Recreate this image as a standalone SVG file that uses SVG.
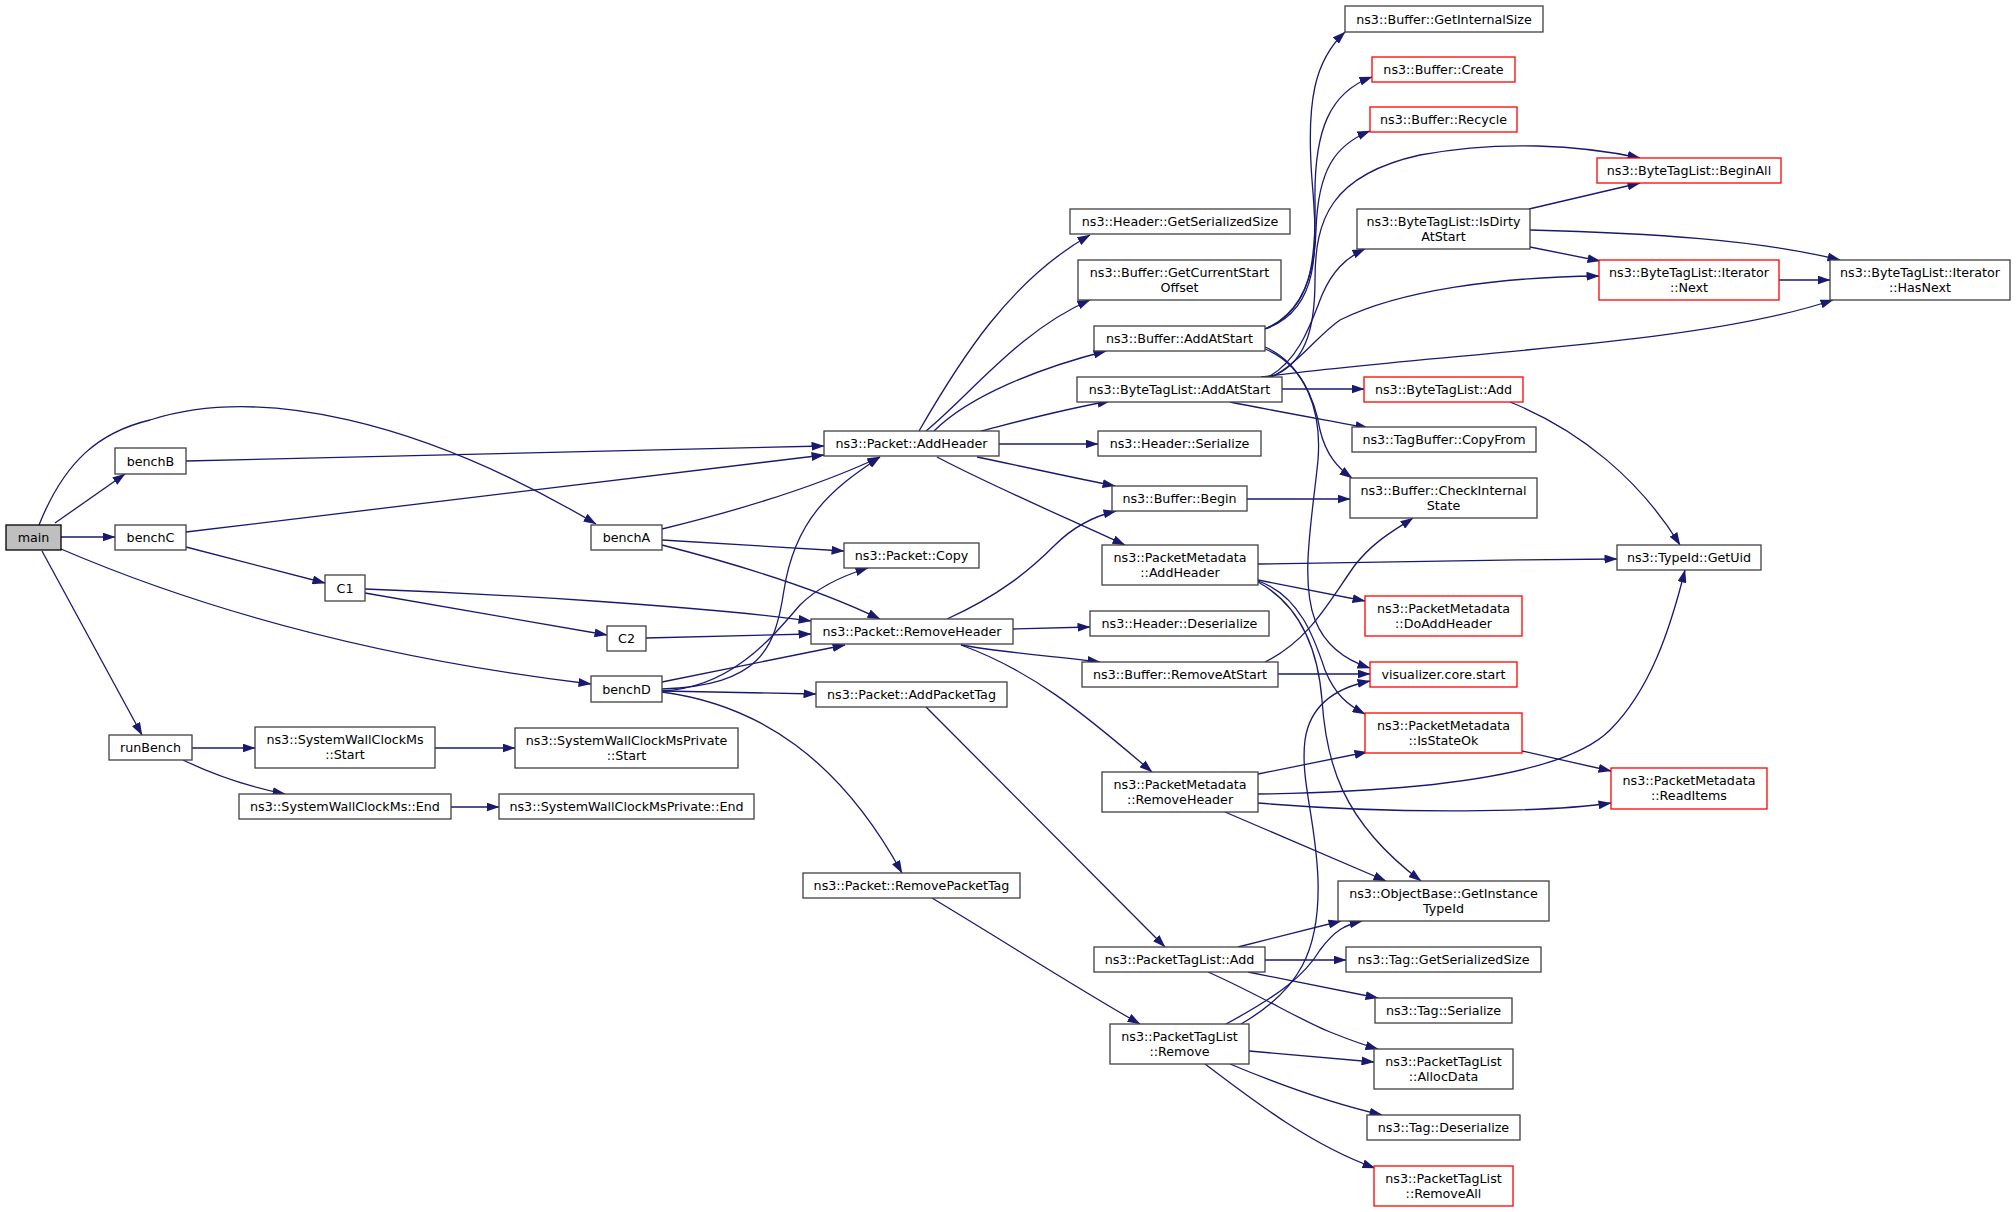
<svg xmlns="http://www.w3.org/2000/svg" width="2016" height="1212" viewBox="0 0 2016 1212">
<defs>
<marker id="ah" viewBox="0 0 13 9" refX="12.5" refY="4.5" markerWidth="13" markerHeight="9" markerUnits="userSpaceOnUse" orient="auto">
<path d="M0,0 L13,4.5 L0,9 z" fill="#191970"/>
</marker>
</defs>
<style>
.n rect{fill:#ffffff;stroke:#404040;stroke-width:1.3}
.r rect{fill:#ffffff;stroke:#ff0000;stroke-width:1.3}
.m rect{fill:#bfbfbf;stroke:#000000;stroke-width:1.3}
text{font-family:"DejaVu Sans","Liberation Sans",sans-serif;font-size:12.7px;fill:#000;text-anchor:middle}
#edges path{fill:none;stroke:#191970;stroke-width:1.3;marker-end:url(#ah)}
</style>
<rect x="0" y="0" width="2016" height="1212" fill="#ffffff"/>
<g id="edges">
<path d="M39,525 C65,460 100,432 150,420 C260,385 420,420 596,524"/>
<path d="M55,523 L125,474"/>
<path d="M61,537 L115,537"/>
<path d="M61,549 C180,600 350,655 591,684"/>
<path d="M42,551 L142,735"/>
<path d="M186,461 L824,446"/>
<path d="M186,532 L824,455"/>
<path d="M186,547 L325,583"/>
<path d="M365,589 C500,594 700,606 811,621"/>
<path d="M365,593 L607,635"/>
<path d="M646,638 L811,634"/>
<path d="M662,529 C740,510 820,485 880,457"/>
<path d="M662,540 L844,551"/>
<path d="M662,545 C740,565 820,590 880,619"/>
<path d="M192,748 L255,748"/>
<path d="M183,760 C210,773 240,785 285,794"/>
<path d="M435,748 L515,748"/>
<path d="M451,807 L499,807"/>
<path d="M662,682 L845,645"/>
<path d="M662,689 C760,685 775,650 784,590 C795,520 830,490 880,457"/>
<path d="M662,691 C730,688 770,640 800,605 C820,585 845,575 868,568"/>
<path d="M662,691 L816,694"/>
<path d="M662,692 C760,705 840,760 902,873"/>
<path d="M919,431 C960,360 1010,280 1090,235"/>
<path d="M926,431 C970,395 1020,330 1090,300"/>
<path d="M934,431 C970,395 1040,368 1106,351"/>
<path d="M981,431 C1020,421 1060,410 1110,401"/>
<path d="M999,444 L1098,444"/>
<path d="M977,457 C1030,468 1070,477 1115,486"/>
<path d="M937,457 C990,485 1060,515 1125,545"/>
<path d="M1247,499 L1350,499"/>
<path d="M947,619 C1000,595 1030,570 1055,545 C1075,525 1095,516 1116,511"/>
<path d="M1013,629 L1090,627"/>
<path d="M961,645 C1000,652 1050,656 1100,662"/>
<path d="M961,645 C1030,670 1080,710 1152,772"/>
<path d="M1258,564 C1400,561 1500,560 1617,559"/>
<path d="M1258,580 L1365,601"/>
<path d="M1258,581 C1300,595 1315,640 1325,670 C1335,695 1348,705 1365,714"/>
<path d="M1258,582 C1300,605 1318,650 1322,700 C1326,760 1340,820 1421,881"/>
<path d="M1265,662 C1310,640 1330,600 1355,565 C1375,540 1395,530 1413,518"/>
<path d="M1278,674 L1370,674"/>
<path d="M1258,774 L1367,752"/>
<path d="M1258,794 C1400,792 1560,780 1610,730 C1650,690 1670,630 1685,570"/>
<path d="M1258,803 C1400,815 1550,812 1611,803"/>
<path d="M1225,812 L1386,881"/>
<path d="M1522,751 L1611,771"/>
<path d="M1265,329 C1320,310 1318,250 1312,180 C1306,100 1315,60 1345,32"/>
<path d="M1265,329 C1312,310 1316,260 1315,200 C1314,130 1330,92 1372,77"/>
<path d="M1265,329 C1305,312 1315,270 1316,230 C1318,170 1335,145 1370,131"/>
<path d="M1265,347 C1300,362 1315,400 1320,430 C1326,455 1338,468 1352,478"/>
<path d="M1265,349 C1305,365 1322,410 1318,460 C1312,520 1300,580 1315,620 C1325,645 1345,660 1370,668"/>
<path d="M1268,377 C1300,360 1312,320 1322,295 C1332,272 1345,258 1365,249"/>
<path d="M1270,377 C1305,365 1315,330 1315,280 C1315,220 1330,175 1420,155 C1500,140 1580,145 1640,158"/>
<path d="M1272,377 C1300,362 1318,335 1340,320 C1400,290 1500,277 1599,276"/>
<path d="M1261,377 C1450,352 1700,345 1833,300"/>
<path d="M1282,389 L1364,389"/>
<path d="M1230,402 C1270,410 1320,419 1368,428"/>
<path d="M1510,402 C1580,430 1640,480 1680,545"/>
<path d="M1529,209 L1640,183"/>
<path d="M1530,247 L1600,261"/>
<path d="M1530,230 C1650,233 1760,240 1840,260"/>
<path d="M1779,280 L1830,280"/>
<path d="M926,707 L1165,947"/>
<path d="M932,898 C1010,945 1080,990 1140,1024"/>
<path d="M1238,947 L1341,921"/>
<path d="M1265,960 L1346,960"/>
<path d="M1248,972 L1378,998"/>
<path d="M1208,972 C1260,995 1300,1020 1330,1032 C1345,1038 1360,1044 1378,1049"/>
<path d="M1226,1024 C1280,995 1305,975 1320,950 C1335,930 1345,925 1362,921"/>
<path d="M1241,1024 C1300,990 1320,950 1318,880 C1316,820 1300,780 1305,740 C1310,705 1335,688 1370,681"/>
<path d="M1249,1051 L1374,1062"/>
<path d="M1230,1064 C1280,1085 1330,1103 1382,1115"/>
<path d="M1205,1064 C1250,1098 1310,1145 1375,1168"/>
</g>
<g id="main" class="m"><rect x="6" y="525" width="55" height="25"/><text x="33.5" y="542.3">main</text></g>
<g id="benchB" class="n"><rect x="115" y="448" width="71" height="26"/><text x="150.5" y="465.5">benchB</text></g>
<g id="benchC" class="n"><rect x="115" y="525" width="71" height="25"/><text x="150.5" y="542.3">benchC</text></g>
<g id="runBench" class="n"><rect x="109" y="735" width="83" height="25"/><text x="150.5" y="752.3">runBench</text></g>
<g id="C1" class="n"><rect x="325" y="575" width="40" height="26"/><text x="345" y="592.5">C1</text></g>
<g id="benchA" class="n"><rect x="591" y="525" width="71" height="25"/><text x="626.5" y="542.3">benchA</text></g>
<g id="C2" class="n"><rect x="607" y="626" width="39" height="25"/><text x="626.5" y="643.3">C2</text></g>
<g id="benchD" class="n"><rect x="591" y="676" width="71" height="26"/><text x="626.5" y="693.5">benchD</text></g>
<g id="swcStart" class="n"><rect x="255" y="727" width="180" height="41"/><text x="345" y="744">ns3::SystemWallClockMs</text><text x="345" y="759">::Start</text></g>
<g id="swcEnd" class="n"><rect x="239" y="794" width="212" height="25"/><text x="345" y="811.3">ns3::SystemWallClockMs::End</text></g>
<g id="swcpStart" class="n"><rect x="515" y="728" width="223" height="40"/><text x="626.5" y="745">ns3::SystemWallClockMsPrivate</text><text x="626.5" y="760">::Start</text></g>
<g id="swcpEnd" class="n"><rect x="499" y="794" width="255" height="25"/><text x="626.5" y="811.3">ns3::SystemWallClockMsPrivate::End</text></g>
<g id="pktAddHeader" class="n"><rect x="824" y="431" width="175" height="25"/><text x="911.5" y="448.3">ns3::Packet::AddHeader</text></g>
<g id="pktCopy" class="n"><rect x="844" y="543" width="135" height="25"/><text x="911.5" y="560.3">ns3::Packet::Copy</text></g>
<g id="pktRemoveHeader" class="n"><rect x="811" y="619" width="202" height="25"/><text x="912" y="636.3">ns3::Packet::RemoveHeader</text></g>
<g id="pktAddPacketTag" class="n"><rect x="816" y="682" width="191" height="25"/><text x="911.5" y="699.3">ns3::Packet::AddPacketTag</text></g>
<g id="pktRemovePacketTag" class="n"><rect x="803" y="873" width="217" height="25"/><text x="911.5" y="890.3">ns3::Packet::RemovePacketTag</text></g>
<g id="hdrGetSerializedSize" class="n"><rect x="1070" y="209" width="220" height="25"/><text x="1180" y="226.3">ns3::Header::GetSerializedSize</text></g>
<g id="bufGetCurrentStartOffset" class="n"><rect x="1078" y="260" width="203" height="40"/><text x="1179.5" y="277">ns3::Buffer::GetCurrentStart</text><text x="1179.5" y="292">Offset</text></g>
<g id="bufAddAtStart" class="n"><rect x="1094" y="326" width="171" height="25"/><text x="1179.5" y="343.3">ns3::Buffer::AddAtStart</text></g>
<g id="btlAddAtStart" class="n"><rect x="1077" y="377" width="205" height="25"/><text x="1179.5" y="394.3">ns3::ByteTagList::AddAtStart</text></g>
<g id="hdrSerialize" class="n"><rect x="1098" y="431" width="163" height="25"/><text x="1179.5" y="448.3">ns3::Header::Serialize</text></g>
<g id="bufBegin" class="n"><rect x="1112" y="486" width="135" height="25"/><text x="1179.5" y="503.3">ns3::Buffer::Begin</text></g>
<g id="pmAddHeader" class="n"><rect x="1102" y="545" width="156" height="40"/><text x="1180" y="562">ns3::PacketMetadata</text><text x="1180" y="577">::AddHeader</text></g>
<g id="hdrDeserialize" class="n"><rect x="1090" y="611" width="179" height="25"/><text x="1179.5" y="628.3">ns3::Header::Deserialize</text></g>
<g id="bufRemoveAtStart" class="n"><rect x="1082" y="662" width="196" height="25"/><text x="1180" y="679.3">ns3::Buffer::RemoveAtStart</text></g>
<g id="pmRemoveHeader" class="n"><rect x="1102" y="772" width="156" height="40"/><text x="1180" y="789">ns3::PacketMetadata</text><text x="1180" y="804">::RemoveHeader</text></g>
<g id="ptlAdd" class="n"><rect x="1094" y="947" width="171" height="25"/><text x="1179.5" y="964.3">ns3::PacketTagList::Add</text></g>
<g id="ptlRemove" class="n"><rect x="1110" y="1024" width="139" height="40"/><text x="1179.5" y="1041">ns3::PacketTagList</text><text x="1179.5" y="1056">::Remove</text></g>
<g id="bufGetInternalSize" class="n"><rect x="1345" y="6" width="198" height="26"/><text x="1444" y="23.5">ns3::Buffer::GetInternalSize</text></g>
<g id="bufCreate" class="r"><rect x="1372" y="57" width="143" height="25"/><text x="1443.5" y="74.3">ns3::Buffer::Create</text></g>
<g id="bufRecycle" class="r"><rect x="1370" y="107" width="147" height="25"/><text x="1443.5" y="124.3">ns3::Buffer::Recycle</text></g>
<g id="btlIsDirtyAtStart" class="n"><rect x="1357" y="209" width="173" height="40"/><text x="1443.5" y="226">ns3::ByteTagList::IsDirty</text><text x="1443.5" y="241">AtStart</text></g>
<g id="btlAdd" class="r"><rect x="1364" y="377" width="159" height="25"/><text x="1443.5" y="394.3">ns3::ByteTagList::Add</text></g>
<g id="tbCopyFrom" class="n"><rect x="1352" y="427" width="184" height="25"/><text x="1444" y="444.3">ns3::TagBuffer::CopyFrom</text></g>
<g id="bufCheckInternalState" class="n"><rect x="1350" y="478" width="187" height="40"/><text x="1443.5" y="495">ns3::Buffer::CheckInternal</text><text x="1443.5" y="510">State</text></g>
<g id="pmDoAddHeader" class="r"><rect x="1365" y="596" width="157" height="40"/><text x="1443.5" y="613">ns3::PacketMetadata</text><text x="1443.5" y="628">::DoAddHeader</text></g>
<g id="vizStart" class="r"><rect x="1370" y="662" width="147" height="25"/><text x="1443.5" y="679.3">visualizer.core.start</text></g>
<g id="pmIsStateOk" class="r"><rect x="1365" y="713" width="157" height="40"/><text x="1443.5" y="730">ns3::PacketMetadata</text><text x="1443.5" y="745">::IsStateOk</text></g>
<g id="obGetInstanceTypeId" class="n"><rect x="1338" y="881" width="211" height="40"/><text x="1443.5" y="898">ns3::ObjectBase::GetInstance</text><text x="1443.5" y="913">TypeId</text></g>
<g id="tagGetSerializedSize" class="n"><rect x="1346" y="947" width="195" height="25"/><text x="1443.5" y="964.3">ns3::Tag::GetSerializedSize</text></g>
<g id="tagSerialize" class="n"><rect x="1375" y="998" width="137" height="25"/><text x="1443.5" y="1015.3">ns3::Tag::Serialize</text></g>
<g id="ptlAllocData" class="n"><rect x="1374" y="1049" width="139" height="40"/><text x="1443.5" y="1066">ns3::PacketTagList</text><text x="1443.5" y="1081">::AllocData</text></g>
<g id="tagDeserialize" class="n"><rect x="1367" y="1115" width="153" height="25"/><text x="1443.5" y="1132.3">ns3::Tag::Deserialize</text></g>
<g id="ptlRemoveAll" class="r"><rect x="1374" y="1166" width="139" height="40"/><text x="1443.5" y="1183">ns3::PacketTagList</text><text x="1443.5" y="1198">::RemoveAll</text></g>
<g id="btlBeginAll" class="r"><rect x="1597" y="158" width="184" height="25"/><text x="1689" y="175.3">ns3::ByteTagList::BeginAll</text></g>
<g id="btlIterNext" class="r"><rect x="1599" y="260" width="180" height="40"/><text x="1689" y="277">ns3::ByteTagList::Iterator</text><text x="1689" y="292">::Next</text></g>
<g id="btlIterHasNext" class="n"><rect x="1830" y="260" width="180" height="40"/><text x="1920" y="277">ns3::ByteTagList::Iterator</text><text x="1920" y="292">::HasNext</text></g>
<g id="typeIdGetUid" class="n"><rect x="1617" y="545" width="144" height="25"/><text x="1689" y="562.3">ns3::TypeId::GetUid</text></g>
<g id="pmReadItems" class="r"><rect x="1611" y="768" width="156" height="41"/><text x="1689" y="785">ns3::PacketMetadata</text><text x="1689" y="800">::ReadItems</text></g>
</svg>
